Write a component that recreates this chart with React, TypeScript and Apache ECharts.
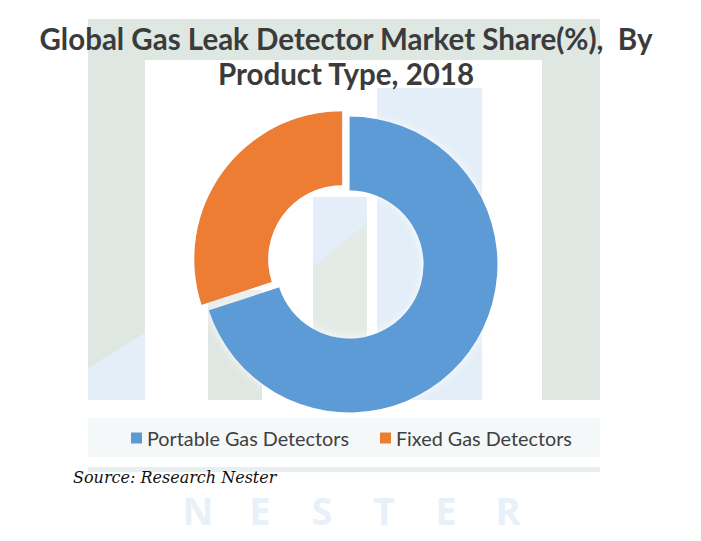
import React, { useEffect, useRef } from "react";
import * as echarts from "echarts";

const titleLines = ["Global Gas Leak Detector Market Share(%),  By", "Product Type, 2018"];
const categories = ["Portable Gas Detectors", "Fixed Gas Detectors"];
const shares = [70, 30];
const sliceColors = ["#5B9BD5", "#ED7D31"];
const sourceText = "Source: Research Nester";
const watermarkLetters = ["N", "E", "S", "T", "E", "R"];

const GRAY = "#dfe7e3";
const LBLUE = "#e3eef8";

export default function App() {
  const ref = useRef<HTMLDivElement>(null);
  useEffect(() => {
    document.body.style.margin = "0";
    const chart = echarts.init(ref.current!, null, { renderer: "svg" });
    const letterEls = watermarkLetters.map((ch, i) => ({
      type: "text", z: -7, x: 198 + i * 62, y: 510,
      style: { text: ch, align: "center", verticalAlign: "middle", fontFamily: "Open Sans", fontWeight: "bold", fontSize: 38, fill: "#e8f1f9" },
    }));
    const option: any = {
      animation: false,
      backgroundColor: "#ffffff",
      legend: {
        data: categories,
        left: 126,
        top: 423,
        icon: "rect",
        itemWidth: 11,
        itemHeight: 11,
        itemGap: 31,
        selectedMode: false,
        textStyle: { fontFamily: "Lato", fontSize: 19.8, color: "#404040", lineHeight: 20 },
      },
      graphic: [
        // watermark logo
        { type: "rect", z: -10, shape: { x: 88, y: 19, width: 512, height: 381 }, style: { fill: GRAY } },
        { type: "rect", z: -9, shape: { x: 145, y: 60, width: 397, height: 340 }, style: { fill: "#ffffff" } },
        { type: "polygon", z: -8, shape: { points: [[88, 368], [145, 333], [145, 400], [88, 400]] }, style: { fill: LBLUE } },
        { type: "rect", z: -8, shape: { x: 377, y: 88, width: 105, height: 312 }, style: { fill: LBLUE } },
        { type: "rect", z: -8, shape: { x: 208, y: 290, width: 54, height: 110 }, style: { fill: GRAY } },
        { type: "rect", z: -8, shape: { x: 313, y: 197, width: 54, height: 203 }, style: { fill: "#e4ebe7" } },
        { type: "polygon", z: -7, shape: { points: [[313, 197], [367, 197], [367, 223], [313, 267]] }, style: { fill: LBLUE } },
        { type: "rect", z: -8, shape: { x: 88, y: 418, width: 512, height: 39 }, style: { fill: "#f5f8f9" } },
        { type: "rect", z: -8, shape: { x: 88, y: 467, width: 512, height: 5 }, style: { fill: "#e8eff1" } },
        ...letterEls,
        // title
        {
          type: "text", z: 10, x: 346, y: 38,
          style: { text: titleLines[0], align: "center", verticalAlign: "middle", fontFamily: "Lato", fontWeight: "bold", fontSize: 29.5, fill: "#3b3b3b" },
        },
        {
          type: "text", z: 10, x: 346, y: 73,
          style: { text: titleLines[1], align: "center", verticalAlign: "middle", fontFamily: "Lato", fontWeight: "bold", fontSize: 29.5, fill: "#3b3b3b" },
        },
        // source
        {
          type: "text", z: 10, x: 73, y: 477,
          style: { text: sourceText, align: "left", verticalAlign: "middle", fontFamily: "DejaVu Serif", fontStyle: "italic", fontSize: 16, fill: "#111111" },
        },
      ],
      series: [
        {
          type: "pie",
          center: [349.5, 264.5],
          radius: [74, 148],
          startAngle: 90,
          clockwise: true,
          selectedMode: "single",
          selectedOffset: 9,
          label: { show: false },
          labelLine: { show: false },
          emphasis: { disabled: true },
          itemStyle: { shadowBlur: 8, shadowColor: "rgba(255,255,255,0.95)" },
          data: categories.map((name, i) => ({
            name,
            value: shares[i],
            selected: i === 1,
            itemStyle: { color: sliceColors[i] },
            select: { itemStyle: { color: sliceColors[i] } },
          })),
        },
      ],
    };
    chart.setOption(option);
    return () => chart.dispose();
  }, []);
  return <div ref={ref} style={{ width: 701, height: 541 }} />;
}
